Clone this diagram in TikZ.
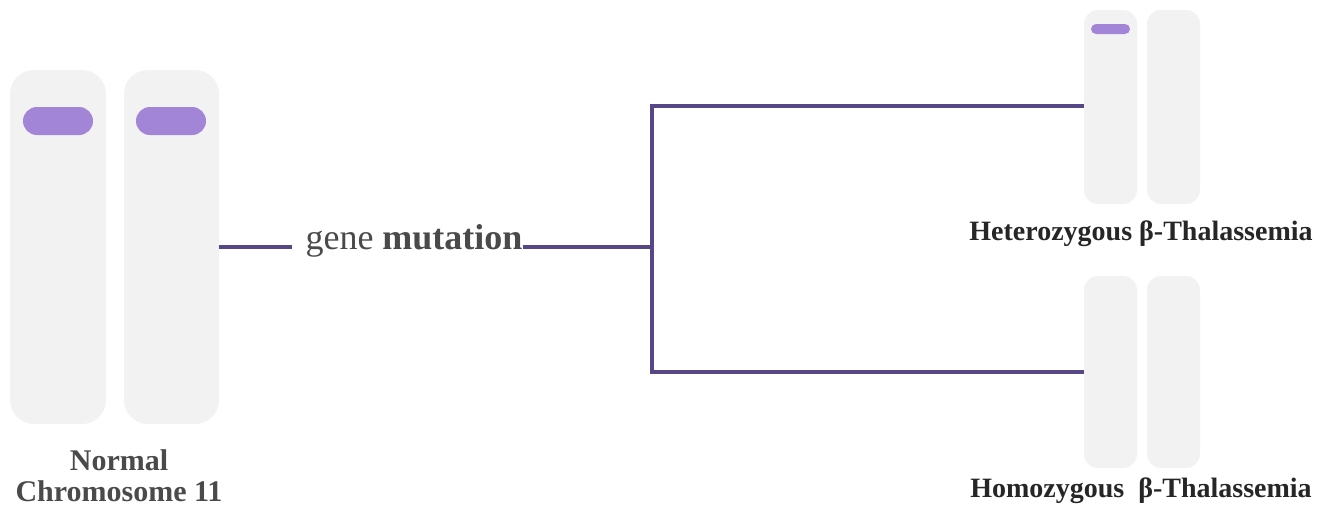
\documentclass[tikz,border=0pt]{standalone}
\usepackage{fontspec}
\setmainfont{Liberation Serif}
\begin{document}
\begin{tikzpicture}[x=1pt,y=-1pt,
  chromo/.style={fill=chromfill,draw=none,rounded corners=#1},
  chromo/.default=24pt,
  band/.style={fill=bandfill,draw=none,rounded corners=#1},
  link/.style={draw=linkcol,line width=3.2pt},
  lbl/.style={text=labelgray,font=\bfseries\fontsize{30}{31}\selectfont,align=center,inner sep=0pt},
  rlbl/.style={text=black!85,font=\bfseries\fontsize{28}{32}\selectfont,inner sep=0pt}]
\definecolor{chromfill}{HTML}{F2F2F2}
\definecolor{bandfill}{HTML}{A285D6}
\definecolor{linkcol}{HTML}{574786}
\definecolor{labelgray}{HTML}{4A4A4A}
\useasboundingbox (0,0) rectangle (1332,506);
\fill[white] (0,0) rectangle (1332,506);

% normal chromosome pair
\path[chromo] (10,70) rectangle (106,424);
\path[chromo] (124,70) rectangle (219,424);
\path[band=14pt] (23,107) rectangle (93,135);
\path[band=14pt] (136,107) rectangle (206,135);
\node[lbl] (normlbl) at (119,476) {Normal\\Chromosome 11};

% mutation label and branch
\node[inner sep=0pt,font=\fontsize{36}{40}\selectfont,text=labelgray] (mut) at (414,241)
  {gene \textbf{mutation}};
\coordinate (normR) at (219,247);
\coordinate (split) at (652,247);
\coordinate (splitT) at (652,106);
\coordinate (splitB) at (652,372);
\coordinate (hetL) at (1084,106);
\coordinate (homL) at (1084,372);
\draw[link] (normR) -- ([xshift=-13pt]mut.west |- normR);
\draw[link] (mut.east |- split) -- (split);
\draw[link] (hetL) -- (splitT) -- (splitB) -- (homL);

% heterozygous pair
\path[chromo=14pt] (1084,10) rectangle (1137,204);
\path[chromo=14pt] (1147,10) rectangle (1200,204);
\path[band=5pt] (1091,24) rectangle (1130,34);
\node[rlbl] (hetlbl) at (1141,234) {Heterozygous β-Thalassemia};

% homozygous pair
\path[chromo=14pt] (1084,276) rectangle (1137,468);
\path[chromo=14pt] (1147,276) rectangle (1200,468);
\node[rlbl] (homlbl) at (1141,491) {Homozygous\ \ β-Thalassemia};
\end{tikzpicture}
\end{document}
